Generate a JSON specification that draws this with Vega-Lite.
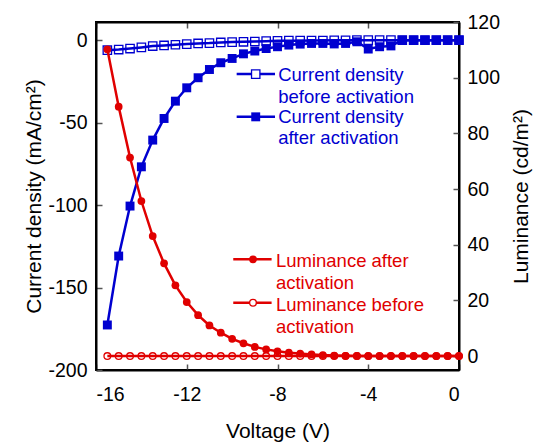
{
  "$schema": "https://vega.github.io/schema/vega-lite/v6.json",
  "width": 363,
  "height": 348,
  "autosize": {"type": "none"},
  "padding": {"left": 96, "top": 22, "right": 80, "bottom": 74},
  "background": "white",
  "config": {
    "view": {"stroke": "black", "strokeWidth": 2},
    "font": "Liberation Sans",
    "axis": {
      "grid": false,
      "domainColor": "black",
      "domainWidth": 2,
      "tickColor": "#555555",
      "tickWidth": 1.5,
      "tickSize": -6,
      "labelFont": "Liberation Sans",
      "labelFontSize": 19.5,
      "labelColor": "black",
      "titleFont": "Liberation Sans",
      "titleFontSize": 21,
      "titleFontWeight": "normal",
      "titleColor": "black"
    }
  },
  "datasets": {
    "d": [
      {"V": -15.5, "Ja": -172.7, "Jb": -6.1, "La": 110.2, "Lb": 0},
      {"V": -15.0, "Ja": -130.9, "Jb": -5.7, "La": 89.6, "Lb": 0},
      {"V": -14.5, "Ja": -100.6, "Jb": -5.1, "La": 71.3, "Lb": 0},
      {"V": -14.0, "Ja": -76.8, "Jb": -4.4, "La": 55.7, "Lb": 0},
      {"V": -13.5, "Ja": -60.6, "Jb": -3.6, "La": 43.1, "Lb": 0},
      {"V": -13.0, "Ja": -47.5, "Jb": -3.2, "La": 33.3, "Lb": 0},
      {"V": -12.5, "Ja": -37.0, "Jb": -2.8, "La": 25.4, "Lb": 0},
      {"V": -12.0, "Ja": -28.9, "Jb": -2.4, "La": 19.4, "Lb": 0},
      {"V": -11.5, "Ja": -22.8, "Jb": -2.0, "La": 14.7, "Lb": 0},
      {"V": -11.0, "Ja": -17.8, "Jb": -1.8, "La": 11.0, "Lb": 0},
      {"V": -10.5, "Ja": -13.7, "Jb": -1.4, "La": 8.4, "Lb": 0},
      {"V": -10.0, "Ja": -11.1, "Jb": -1.2, "La": 6.2, "Lb": 0},
      {"V": -9.5, "Ja": -8.3, "Jb": -1.0, "La": 4.6, "Lb": 0},
      {"V": -9.0, "Ja": -6.6, "Jb": -0.8, "La": 3.3, "Lb": 0},
      {"V": -8.5, "Ja": -5.1, "Jb": -0.6, "La": 2.4, "Lb": 0},
      {"V": -8.0, "Ja": -4.0, "Jb": -0.4, "La": 1.7, "Lb": 0},
      {"V": -7.5, "Ja": -3.0, "Jb": -0.3, "La": 1.2, "Lb": 0},
      {"V": -7.0, "Ja": -2.4, "Jb": -0.3, "La": 0.9, "Lb": 0},
      {"V": -6.5, "Ja": -2.0, "Jb": -0.2, "La": 0.6, "Lb": 0},
      {"V": -6.0, "Ja": -2.0, "Jb": -0.2, "La": 0.35, "Lb": 0},
      {"V": -5.5, "Ja": -2.3, "Jb": -0.1, "La": 0.2, "Lb": 0},
      {"V": -5.0, "Ja": -2.0, "Jb": -0.1, "La": 0.1, "Lb": 0},
      {"V": -4.5, "Ja": -1.0, "Jb": 0, "La": 0.05, "Lb": 0},
      {"V": -4.0, "Ja": -5.4, "Jb": 0, "La": 0, "Lb": 0},
      {"V": -3.5, "Ja": -4.0, "Jb": 0, "La": 0, "Lb": 0},
      {"V": -3.0, "Ja": -3.5, "Jb": 0, "La": 0, "Lb": 0},
      {"V": -2.5, "Ja": 0, "Jb": 0, "La": 0, "Lb": 0},
      {"V": -2.0, "Ja": 0, "Jb": 0, "La": 0, "Lb": 0},
      {"V": -1.5, "Ja": 0, "Jb": 0, "La": 0, "Lb": 0},
      {"V": -1.0, "Ja": 0, "Jb": 0, "La": 0, "Lb": 0},
      {"V": -0.5, "Ja": 0, "Jb": 0, "La": 0, "Lb": 0},
      {"V": 0.0, "Ja": 0, "Jb": 0, "La": 0, "Lb": 0}
    ],
    "legJ": [
      {"x1": -9.8, "x2": -8.11, "xm": -8.96, "y": -20.6, "kind": "before"},
      {"x1": -9.8, "x2": -8.11, "xm": -8.96, "y": -46.5, "kind": "after"}
    ],
    "legJt": [
      {"x": -7.97, "y": -21.2, "t": "Current density"},
      {"x": -7.97, "y": -34.6, "t": "before activation"},
      {"x": -7.97, "y": -46.8, "t": "Current density"},
      {"x": -7.97, "y": -59.6, "t": "after activation"}
    ],
    "legL": [
      {"x1": -9.95, "x2": -8.26, "xm": -9.08, "y": 34.75, "kind": "after"},
      {"x1": -9.95, "x2": -8.26, "xm": -9.08, "y": 19.15, "kind": "before"}
    ],
    "legLt": [
      {"x": -8.07, "y": 34.2, "t": "Luminance after"},
      {"x": -8.07, "y": 26.3, "t": "activation"},
      {"x": -8.07, "y": 18.4, "t": "Luminance before"},
      {"x": -8.07, "y": 10.6, "t": "activation"}
    ]
  },
  "layer": [
    {
      "encoding": {
        "x": {
          "field": "V", "type": "quantitative",
          "scale": {"domain": [-16, 0], "nice": false, "zero": false},
          "axis": {"values": [-16, -12, -8, -4, 0], "labelExpr": "toString(datum.value)", "title": "Voltage (V)", "labelPadding": 21, "titlePadding": 17, "orient": "bottom"}
        }
      },
      "layer": [
        {
          "data": {"name": "d"},
          "mark": {"type": "line", "color": "#0000d0", "strokeWidth": 2.5},
          "encoding": {
            "y": {
              "field": "Jb", "type": "quantitative",
              "scale": {"domain": [-200, 11], "nice": false, "zero": false},
              "axis": {"values": [-200, -150, -100, -50, 0], "labelExpr": "toString(datum.value)", "title": "Current density (mA/cm²)", "orient": "left", "labelPadding": 15, "titlePadding": 3}
            }
          }
        },
        {
          "data": {"name": "d"},
          "mark": {"type": "point", "shape": "square", "filled": false, "color": "#0000d0", "strokeWidth": 1.3, "size": 70, "opacity": 1},
          "encoding": {"y": {"field": "Jb", "type": "quantitative"}}
        },
        {
          "data": {"name": "d"},
          "mark": {"type": "line", "color": "#0000d0", "strokeWidth": 2.5},
          "encoding": {"y": {"field": "Ja", "type": "quantitative"}}
        },
        {
          "data": {"name": "d"},
          "mark": {"type": "point", "shape": "square", "filled": true, "color": "#0000d0", "size": 80, "opacity": 1},
          "encoding": {"y": {"field": "Ja", "type": "quantitative"}}
        },
        {
          "data": {"name": "legJ"},
          "mark": {"type": "rule", "color": "#0000d0", "strokeWidth": 2.5},
          "encoding": {
            "x": {"field": "x1", "type": "quantitative"},
            "x2": {"field": "x2"},
            "y": {"field": "y", "type": "quantitative"}
          }
        },
        {
          "data": {"name": "legJ"},
          "transform": [{"filter": "datum.kind == 'before'"}],
          "mark": {"type": "point", "shape": "square", "filled": true, "fill": "white", "stroke": "#0000d0", "strokeWidth": 1.3, "size": 70, "opacity": 1},
          "encoding": {
            "x": {"field": "xm", "type": "quantitative"},
            "y": {"field": "y", "type": "quantitative"}
          }
        },
        {
          "data": {"name": "legJ"},
          "transform": [{"filter": "datum.kind == 'after'"}],
          "mark": {"type": "point", "shape": "square", "filled": true, "color": "#0000d0", "size": 80, "opacity": 1},
          "encoding": {
            "x": {"field": "xm", "type": "quantitative"},
            "y": {"field": "y", "type": "quantitative"}
          }
        },
        {
          "data": {"name": "legJt"},
          "mark": {"type": "text", "align": "left", "baseline": "middle", "fontSize": 18.5, "color": "#0000d0", "font": "Liberation Sans"},
          "encoding": {
            "x": {"field": "x", "type": "quantitative"},
            "y": {"field": "y", "type": "quantitative"},
            "text": {"field": "t"}
          }
        }
      ]
    },
    {
      "encoding": {
        "x": {
          "field": "V", "type": "quantitative",
          "scale": {"domain": [-16, 0], "nice": false, "zero": false},
          "axis": {"values": [-16, -12, -8, -4, 0], "labels": false, "title": null, "orient": "top"}
        }
      },
      "layer": [
        {
          "data": {"name": "d"},
          "mark": {"type": "line", "color": "#e00000", "strokeWidth": 2.5},
          "encoding": {
            "y": {
              "field": "Lb", "type": "quantitative",
              "scale": {"domain": [-5, 120], "nice": false, "zero": false},
              "axis": {"values": [0, 20, 40, 60, 80, 100, 120], "title": "Luminance (cd/m²)", "orient": "right", "titleAngle": 270, "labelPadding": 14, "titlePadding": 32}
            }
          }
        },
        {
          "data": {"name": "d"},
          "mark": {"type": "point", "shape": "circle", "filled": false, "color": "#e00000", "strokeWidth": 1.3, "size": 45, "opacity": 1},
          "encoding": {"y": {"field": "Lb", "type": "quantitative"}}
        },
        {
          "data": {"name": "d"},
          "mark": {"type": "line", "color": "#e00000", "strokeWidth": 2.5},
          "encoding": {"y": {"field": "La", "type": "quantitative"}}
        },
        {
          "data": {"name": "d"},
          "mark": {"type": "point", "shape": "circle", "filled": true, "color": "#e00000", "size": 60, "opacity": 1},
          "encoding": {"y": {"field": "La", "type": "quantitative"}}
        },
        {
          "data": {"name": "legL"},
          "mark": {"type": "rule", "color": "#e00000", "strokeWidth": 2.5},
          "encoding": {
            "x": {"field": "x1", "type": "quantitative"},
            "x2": {"field": "x2"},
            "y": {"field": "y", "type": "quantitative"}
          }
        },
        {
          "data": {"name": "legL"},
          "transform": [{"filter": "datum.kind == 'after'"}],
          "mark": {"type": "point", "shape": "circle", "filled": true, "color": "#e00000", "size": 60, "opacity": 1},
          "encoding": {
            "x": {"field": "xm", "type": "quantitative"},
            "y": {"field": "y", "type": "quantitative"}
          }
        },
        {
          "data": {"name": "legL"},
          "transform": [{"filter": "datum.kind == 'before'"}],
          "mark": {"type": "point", "shape": "circle", "filled": true, "fill": "white", "stroke": "#e00000", "strokeWidth": 1.3, "size": 45, "opacity": 1},
          "encoding": {
            "x": {"field": "xm", "type": "quantitative"},
            "y": {"field": "y", "type": "quantitative"}
          }
        },
        {
          "data": {"name": "legLt"},
          "mark": {"type": "text", "align": "left", "baseline": "middle", "fontSize": 18.5, "color": "#e00000", "font": "Liberation Sans"},
          "encoding": {
            "x": {"field": "x", "type": "quantitative"},
            "y": {"field": "y", "type": "quantitative"},
            "text": {"field": "t"}
          }
        }
      ]
    }
  ],
  "resolve": {"scale": {"y": "independent"}, "axis": {"x": "independent", "y": "independent"}}
}
